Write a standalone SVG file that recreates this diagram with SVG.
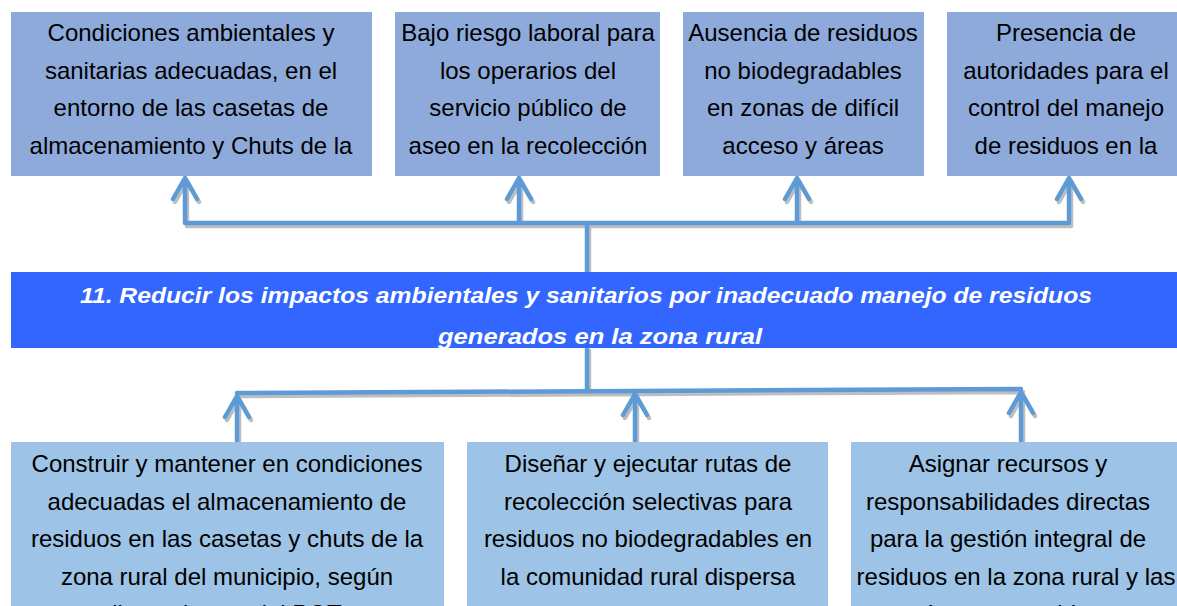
<svg xmlns="http://www.w3.org/2000/svg" width="1177" height="606" viewBox="0 0 1177 606">
<defs>
<style>
.top{fill:#8EAADB}
.bot{fill:#9DC3E6}
.t{font-family:"Liberation Sans",Arial,sans-serif;font-size:24px;fill:#000;text-anchor:middle}
.ti{font-family:"Liberation Sans",Arial,sans-serif;font-size:22px;font-weight:bold;font-style:italic;fill:#fff;text-anchor:middle}
.c{fill:none;stroke:#5B9BD5;stroke-width:4.5;stroke-linecap:round;stroke-linejoin:round}
</style>
<filter id="sh" x="-5%" y="-20%" width="110%" height="140%">
<feDropShadow dx="2" dy="3" stdDeviation="0.6" flood-color="#888" flood-opacity="0.55"/>
</filter>
<clipPath id="tclip"><rect x="11" y="272" width="1166" height="76"/></clipPath>
</defs>
<rect width="1177" height="606" fill="#fff"/>

<g id="connectors" filter="url(#sh)">
<path class="c" d="M587 272V223M185 223H1069M185 223V178M173 199L185 178L197 199M519 223V178M507 199L519 178L531 199M797 223V178M785 199L797 178L809 199M1069 223V178M1057 199L1069 178L1081 199"/>
<path class="c" d="M587 348V391M237 393L1021 389M237 442V396M225 417L237 396L249 417M635 442V394M623 415L635 394L647 415M1021 442V392M1009 413L1021 392L1033 413"/>
</g>

<g id="n1">
<rect class="top" x="11" y="12" width="361" height="164"/>
<text class="t" x="191" y="41">Condiciones ambientales y</text>
<text class="t" x="191" y="78.5">sanitarias adecuadas, en el</text>
<text class="t" x="191" y="116">entorno de las casetas de</text>
<text class="t" x="191" y="153.5">almacenamiento y Chuts de la</text>
</g>
<g id="n2">
<rect class="top" x="395" y="12" width="265" height="164"/>
<text class="t" x="528" y="41">Bajo riesgo laboral para</text>
<text class="t" x="528" y="78.5">los operarios del</text>
<text class="t" x="528" y="116">servicio público de</text>
<text class="t" x="528" y="153.5">aseo en la recolección</text>
</g>
<g id="n3">
<rect class="top" x="683" y="12" width="241" height="164"/>
<text class="t" x="803" y="41">Ausencia de residuos</text>
<text class="t" x="803" y="78.5">no biodegradables</text>
<text class="t" x="803" y="116">en zonas de difícil</text>
<text class="t" x="803" y="153.5">acceso y áreas</text>
</g>
<g id="n4">
<rect class="top" x="947" y="12" width="230" height="164"/>
<text class="t" x="1066" y="41">Presencia de</text>
<text class="t" x="1066" y="78.5">autoridades para el</text>
<text class="t" x="1066" y="116">control del manejo</text>
<text class="t" x="1066" y="153.5">de residuos en la</text>
</g>

<g id="goal">
<rect x="11" y="272" width="1166" height="76" fill="#3366FF"/>
<g clip-path="url(#tclip)">
<text class="ti" x="586" y="303" textLength="1012" lengthAdjust="spacingAndGlyphs">11. Reducir los impactos ambientales y sanitarios por inadecuado manejo de residuos</text>
<text class="ti" x="600" y="344" textLength="324" lengthAdjust="spacingAndGlyphs">generados en la zona rural</text>
</g>
</g>

<g id="b1">
<rect class="bot" x="11" y="442" width="433" height="180"/>
<text class="t" x="227" y="472">Construir y mantener en condiciones</text>
<text class="t" x="227" y="509.5">adecuadas el almacenamiento de</text>
<text class="t" x="227" y="547">residuos en las casetas y chuts de la</text>
<text class="t" x="227" y="584.5">zona rural del municipio, según</text>
<text class="t" x="227" y="622">lineamientos del POT</text>
</g>
<g id="b2">
<rect class="bot" x="467" y="442" width="361" height="180"/>
<text class="t" x="648" y="472">Diseñar y ejecutar rutas de</text>
<text class="t" x="648" y="509.5">recolección selectivas para</text>
<text class="t" x="648" y="547">residuos no biodegradables en</text>
<text class="t" x="648" y="584.5">la comunidad rural dispersa</text>
</g>
<g id="b3">
<rect class="bot" x="851" y="442" width="326" height="180"/>
<text class="t" x="1008" y="472">Asignar recursos y</text>
<text class="t" x="1008" y="509.5">responsabilidades directas</text>
<text class="t" x="1008" y="547">para la gestión integral de</text>
<text class="t" x="1016" y="584.5">residuos en la zona rural y las</text>
<text class="t" x="1012" y="622">áreas protegidas</text>
</g>
</svg>
